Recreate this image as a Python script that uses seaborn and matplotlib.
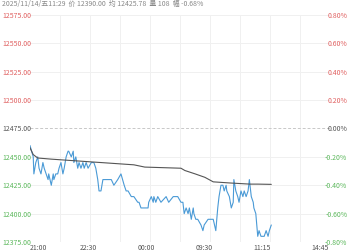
import matplotlib
matplotlib.use("Agg")
import matplotlib.pyplot as plt
import seaborn as sns
import pandas as pd

# ---- data ----
header = "2025/11/14/五11:29  价 12390.00  均 12425.78  量 108  幅 -0.68%"
pre_close = 12475.0
total_minutes = 465
x_tick_pos = [0, 90, 180, 270, 360, 450]
x_tick_labels = ["21:00", "22:30", "00:00", "09:30", "11:15", "14:45"]
y_ticks = [12375, 12400, 12425, 12450, 12475, 12500, 12525, 12550, 12575]
pct_labels = ["-0.80%", "-0.60%", "-0.40%", "-0.20%", "0.00%", "0.20%", "0.40%", "0.60%", "0.80%"]

price_idx = [0, 5, 6, 9, 12, 14, 17, 20, 22, 25, 28, 29, 33, 36, 37, 40, 43, 45, 48, 51,
             53, 56, 59, 60, 64, 67, 68, 71, 74, 76, 79, 82, 84, 87, 90, 95, 99, 102, 105, 107,
             110, 113, 115, 121, 126, 130, 136, 141, 146, 149, 152, 157, 161, 167, 169, 172, 183, 184, 188, 191,
             192, 195, 198, 203, 211, 215, 222, 229, 234, 237, 239, 242, 245, 247, 250, 253, 254, 257, 260, 265,
             268, 270, 276, 281, 284, 288, 291, 293, 296, 299, 301, 304, 305, 309, 312, 315, 316, 319, 322, 324,
             327, 330, 332, 335, 338, 340, 343, 346, 347, 350, 353, 355, 358, 361, 363, 366, 369, 371, 374]
price = [12460, 12450, 12435, 12445, 12450, 12440, 12435, 12445, 12440, 12435, 12430, 12435, 12425, 12435, 12430, 12435, 12435, 12440, 12445, 12435,
         12440, 12450, 12455, 12455, 12450, 12455, 12445, 12450, 12440, 12445, 12440, 12445, 12440, 12445, 12440, 12445, 12445, 12440, 12430, 12420,
         12420, 12430, 12430, 12430, 12430, 12425, 12430, 12435, 12425, 12420, 12420, 12415, 12415, 12410, 12410, 12405, 12405, 12410, 12415, 12410,
         12415, 12410, 12415, 12410, 12415, 12410, 12415, 12415, 12410, 12410, 12400, 12405, 12400, 12405, 12395, 12405, 12400, 12395, 12395, 12390,
         12385, 12390, 12395, 12395, 12395, 12385, 12405, 12415, 12425, 12425, 12420, 12425, 12420, 12415, 12405, 12410, 12430, 12420, 12415, 12410,
         12420, 12415, 12420, 12415, 12420, 12430, 12415, 12410, 12405, 12400, 12380, 12385, 12380, 12380, 12380, 12385, 12380, 12385, 12390]

avg_idx = [0, 5, 12, 33, 84, 110, 161, 178, 234, 240, 256, 271, 284, 310, 341, 353, 374]
avg = [12458, 12452, 12449, 12448, 12446, 12445, 12443, 12441, 12440, 12438, 12435, 12432, 12428, 12427, 12426, 12426, 12425.78]

# ---- styling ----
sns.set_theme(style="white")
plt.rcParams['font.family'] = ['Noto Sans CJK SC', 'DejaVu Sans']

fig = plt.figure(figsize=(3.5, 2.5), dpi=100)
ax = fig.add_axes([30 / 350, 8 / 250, 300 / 350, 227 / 250])

df_p = pd.DataFrame({"t": price_idx, "v": price})
df_a = pd.DataFrame({"t": avg_idx, "v": avg})
sns.lineplot(data=df_p, x="t", y="v", ax=ax, color="#4a9ad6", linewidth=0.8)
sns.lineplot(data=df_a, x="t", y="v", ax=ax, color="#555555", linewidth=0.8)

lo = pre_close * (1 - 0.008)
hi = pre_close * (1 + 0.008)
ax.set_xlim(0, total_minutes)
ax.set_ylim(lo, hi)

# grid
for i in range(1, 10):
    ax.axvline(total_minutes * i / 10, color="#f0f0f0", linewidth=0.7, zorder=0)
for y in y_ticks:
    if y == pre_close:
        ax.axhline(y, color="#c8c8c8", linewidth=0.7, linestyle=(0, (3, 2)), zorder=0)
    else:
        ax.axhline(y, color="#f0f0f0", linewidth=0.7, zorder=0)

for s in ax.spines.values():
    s.set_visible(False)
ax.set_xlabel("")
ax.set_ylabel("")

ax.set_xticks(x_tick_pos)
ax.set_xticklabels(x_tick_labels)
ax.tick_params(axis="x", length=0, pad=1.5, labelsize=5, labelcolor="#555555")
ax.get_xticklabels()[0].set_ha("left")

def col(v):
    if v > pre_close:
        return "#e06060"
    if v < pre_close:
        return "#5cb85c"
    return "#555555"

ax.set_yticks(y_ticks)
ax.set_yticklabels([f"{v:.2f}" for v in y_ticks])
ax.tick_params(axis="y", length=0, pad=20, labelsize=5)
for lbl, v in zip(ax.get_yticklabels(), y_ticks):
    lbl.set_ha("left")
    lbl.set_color(col(v))

ax2 = ax.twinx()
ax2.set_ylim(lo, hi)
ax2.set_yticks(y_ticks)
ax2.set_yticklabels(pct_labels)
ax2.tick_params(axis="y", length=0, pad=12.5, labelsize=5)
for lbl, v in zip(ax2.get_yticklabels(), y_ticks):
    lbl.set_ha("right")
    lbl.set_color(col(v))
for s in ax2.spines.values():
    s.set_visible(False)
ax2.grid(False)

fig.text(2 / 350, 1 - 4 / 250, header, fontsize=5, color="#888888", va="center", ha="left",
         family=['Noto Sans CJK SC', 'DejaVu Sans'])

fig.savefig("out.png", dpi=100)
